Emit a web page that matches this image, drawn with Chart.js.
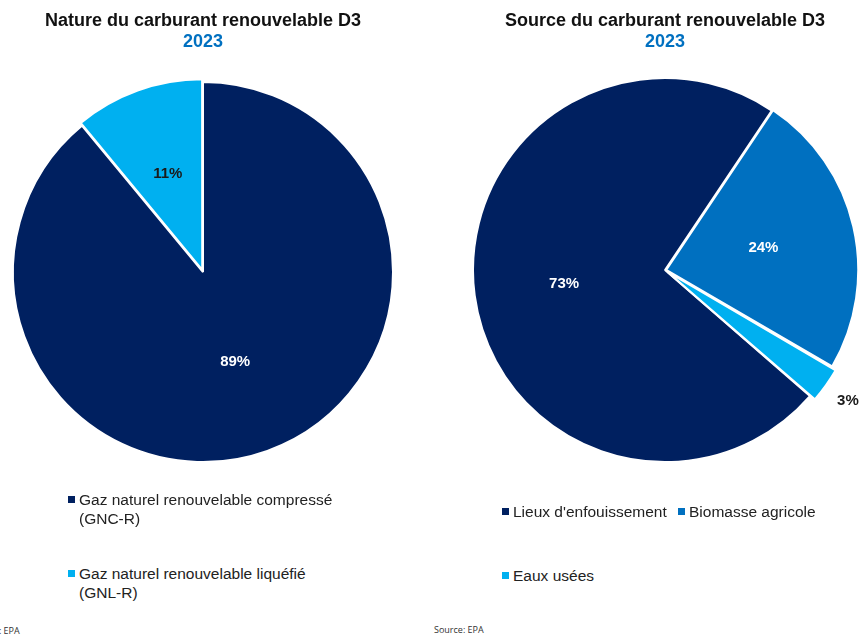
<!DOCTYPE html>
<html>
<head>
<meta charset="utf-8">
<script src="https://cdn.jsdelivr.net/npm/chart.js@4"></script>
<style>
  html,body{margin:0;padding:0;background:#fff;width:859px;height:637px;overflow:hidden;}
  body{position:relative;font-family:"Liberation Sans",Arial,sans-serif;}
  canvas{position:absolute;}
  .leg{position:absolute;font-size:15.5px;line-height:19px;color:#222;white-space:nowrap;}
  .mk{position:absolute;width:7px;height:7px;}
  .src{position:absolute;font-family:"Open Sans","Liberation Sans",sans-serif;font-size:9px;color:#333;white-space:nowrap;}
</style>
</head>
<body>
<canvas id="c1" style="left:0;top:0;width:406px;height:491px" width="406" height="491"></canvas>
<canvas id="c2" style="left:470px;top:0;width:389px;height:487px" width="389" height="487"></canvas>
<div id="leg1"></div>
<div id="leg2"></div>
<div class="src" style="left:-30px;top:624px">Source: EPA</div>
<div class="src" style="left:434px;top:623px">Source: EPA</div>
<script>
// ---- data ----
const title1 = 'Nature du carburant renouvelable D3';
const title2 = 'Source du carburant renouvelable D3';
const year = '2023';
const categories1 = [['Gaz naturel renouvelable compressé', '(GNC-R)'], ['Gaz naturel renouvelable liquéfié', '(GNL-R)']];
const values1 = [89, 11];
const categories2 = ["Lieux d'enfouissement", 'Biomasse agricole', 'Eaux usées'];
const values2 = [73, 24, 3];

// ---- styles ----
const NAVY = '#002060', MID = '#0070C0', LIGHT = '#00B0F0';
const colors1 = [NAVY, LIGHT];
const colors2 = [NAVY, MID, LIGHT];

const pctLabels = {
  id: 'pctLabels',
  afterDatasetsDraw(chart, args, opts) {
    const ctx = chart.ctx;
    const meta = chart.getDatasetMeta(0);
    const data = chart.data.datasets[0].data;
    const total = data.reduce((a, b) => a + b, 0);
    ctx.save();
    ctx.font = 'bold 15px "Liberation Sans", Arial, sans-serif';
    ctx.textAlign = 'center';
    ctx.textBaseline = 'middle';
    meta.data.forEach((arc, i) => {
      const p = arc.getProps(['x', 'y', 'startAngle', 'endAngle', 'outerRadius'], true);
      const mid = (p.startAngle + p.endAngle) / 2;
      const off = arc.options.offset || 0;
      const outside = opts.outside[i];
      const r = outside ? p.outerRadius + off + opts.gap : p.outerRadius * opts.frac[i] + off;
      ctx.fillStyle = opts.colors[i];
      ctx.fillText(Math.round(data[i] / total * 100) + '%', p.x + Math.cos(mid) * r, p.y + Math.sin(mid) * r);
    });
    ctx.restore();
  }
};

function titleOpts(t) {
  return {
    title: {display: true, text: t, color: '#111', font: {family: '"Liberation Sans", Arial, sans-serif', size: 18, weight: 'bold', lineHeight: 1.2}, padding: {top: 10, bottom: 0}},
    subtitle: {display: true, text: year, color: '#0070C0', font: {family: '"Liberation Sans", Arial, sans-serif', size: 18, weight: 'bold', lineHeight: 1.2}, padding: {top: 0, bottom: 0}},
    legend: {display: false},
    tooltip: {enabled: false}
  };
}

new Chart(document.getElementById('c1'), {
  type: 'pie',
  data: {
    labels: categories1.map(c => c.join(' ')),
    datasets: [{data: values1, backgroundColor: colors1, borderColor: '#fff', borderWidth: 2, offset: [0, 9], radius: 190}]
  },
  options: {
    responsive: false, animation: false, rotation: 0,
    layout: {padding: 0},
    plugins: Object.assign(titleOpts(title1), {pctLabels: {outside: [false, false], frac: [0.5, 0.5], gap: 0, colors: ['#fff', '#1a1a1a']}})
  },
  plugins: [pctLabels]
});

new Chart(document.getElementById('c2'), {
  type: 'pie',
  data: {
    labels: categories2,
    datasets: [{data: values2, backgroundColor: colors2, borderColor: '#fff', borderWidth: 2, offset: [0, 5, 13], radius: 192}]
  },
  options: {
    responsive: false, animation: false, rotation: 131,
    layout: {padding: {left: 1, right: 0, top: 0, bottom: 0}},
    plugins: Object.assign(titleOpts(title2), {pctLabels: {outside: [false, false, true], frac: [0.53, 0.5, 0.5], gap: 20, colors: ['#fff', '#fff', '#1a1a1a']}})
  },
  plugins: [pctLabels]
});

// ---- HTML legends ----
function addItem(container, left, top, color, lines) {
  const m = document.createElement('div');
  m.className = 'mk';
  m.style.left = left + 'px';
  m.style.top = (top + 6) + 'px';
  m.style.background = color;
  container.appendChild(m);
  const d = document.createElement('div');
  d.className = 'leg';
  d.style.left = (left + 11) + 'px';
  d.style.top = top + 'px';
  d.innerHTML = lines.map(s => s.replace(/&/g, '&amp;').replace(/</g, '&lt;')).join('<br>');
  container.appendChild(d);
}
const l1 = document.getElementById('leg1');
const leg1Pos = [[68, 490], [68, 564]];
categories1.forEach((c, i) => addItem(l1, leg1Pos[i][0], leg1Pos[i][1], colors1[i], c));
const l2 = document.getElementById('leg2');
const leg2Pos = [[502, 502], [678, 502], [502, 566]];
categories2.forEach((c, i) => addItem(l2, leg2Pos[i][0], leg2Pos[i][1], colors2[i], [c]));
</script>
</body>
</html>
